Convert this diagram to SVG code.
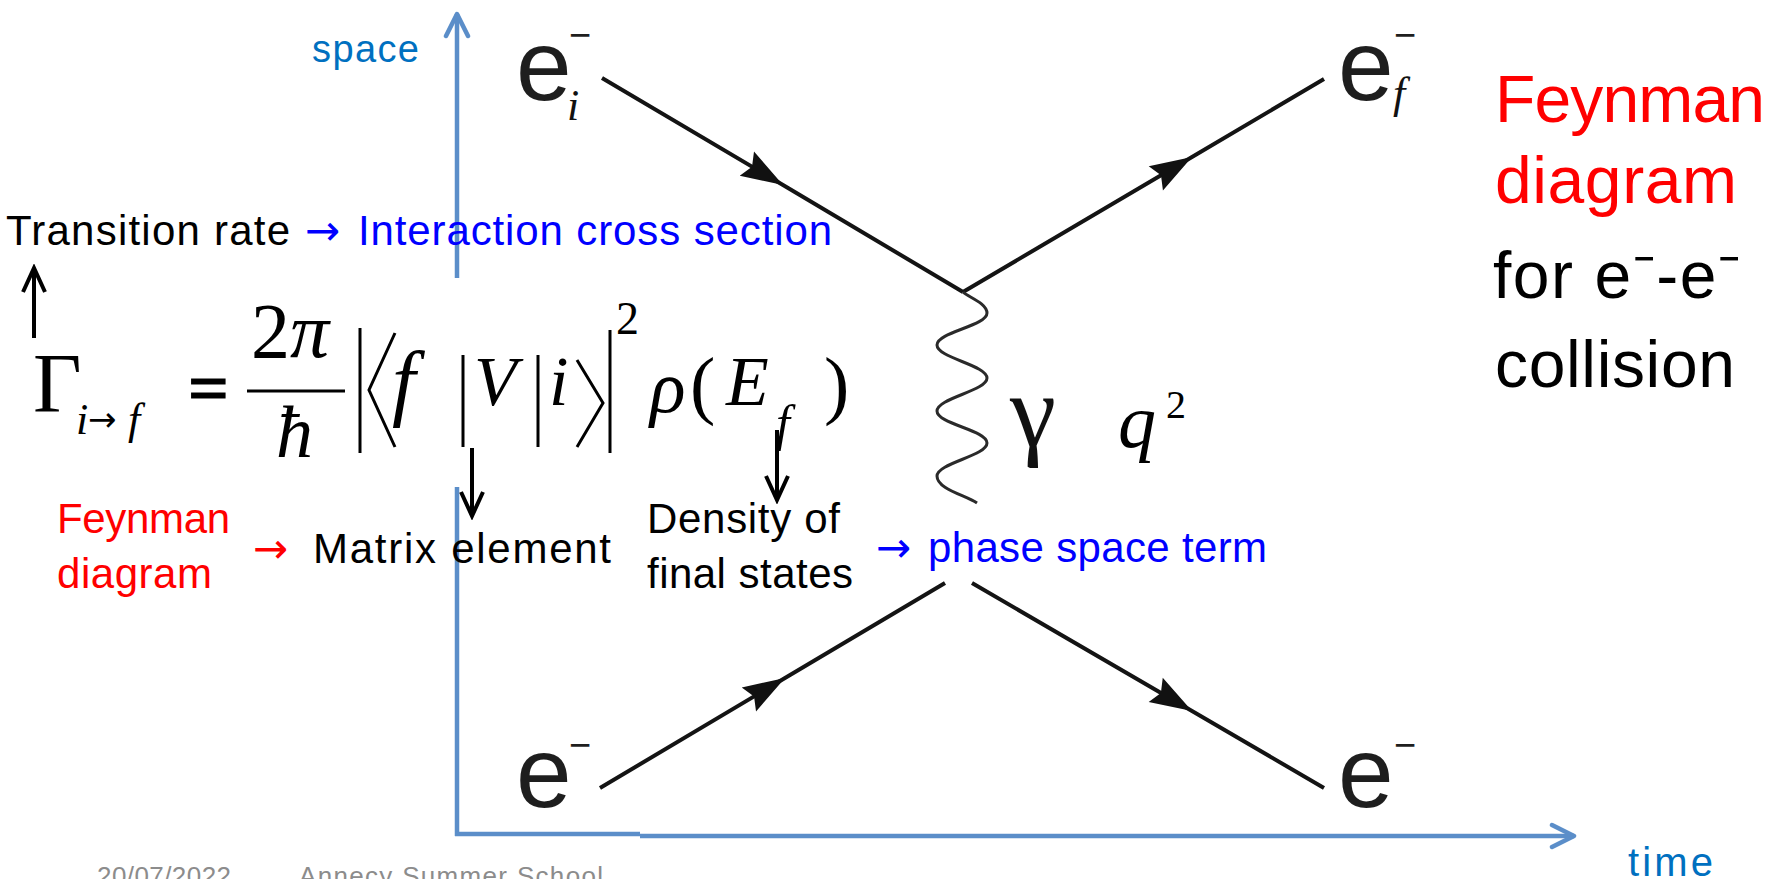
<svg xmlns="http://www.w3.org/2000/svg" width="1767" height="879" viewBox="0 0 1767 879">
<style>
.sans{font-family:"Liberation Sans",Arial,sans-serif}
.serif{font-family:"Liberation Serif","Times New Roman",serif}
.arr{font-family:"DejaVu Sans","Liberation Sans",sans-serif}
.lbl{font-size:42px}
.blk{fill:#000}
.red{fill:#ff0000}
.blu{fill:#0000ff}
.axl{fill:#0070c0}
.ax{stroke:#5b8ec9;stroke-width:4.5;fill:none}
.fer{stroke:#141414;stroke-width:4;fill:none;marker-mid:url(#fillArr)}
.pho{stroke:#2a2a2a;stroke-width:3;fill:none}
.ptr{stroke:#000;stroke-width:4;fill:none;marker-end:url(#openBlk)}
.rule{stroke:#000;stroke-width:3;fill:none}
.el{font-size:100px;fill:#1e1e1e}
.mi{font-style:italic}
</style>
<defs>
<marker id="openBlk" viewBox="-28 -14 32 28" refX="0" refY="0" markerWidth="32" markerHeight="28" markerUnits="userSpaceOnUse" orient="auto">
<path d="M-24,-11 L0,0 L-24,11" fill="none" stroke="#000" stroke-width="4"/>
</marker>
<marker id="openBlu" viewBox="-28 -14 32 28" refX="0" refY="0" markerWidth="32" markerHeight="28" markerUnits="userSpaceOnUse" orient="auto">
<path d="M-22,-11 L0,0 L-22,11" fill="none" stroke="#5b8ec9" stroke-width="4.5" stroke-linecap="round" stroke-linejoin="round"/>
</marker>
<marker id="fillArr" viewBox="-46 -17 50 34" refX="0" refY="0" markerWidth="50" markerHeight="34" markerUnits="userSpaceOnUse" orient="auto">
<path d="M0,0 L-42,-14 L-36,0 L-42,14 Z" fill="#111"/>
</marker>
</defs>
<rect width="1767" height="879" fill="#fff"/>

<g id="connectors">
  <path class="ax" d="M457,278 L457,14" marker-end="url(#openBlu)"/>
  <path class="ax" d="M457,487 L457,836"/>
  <path class="ax" d="M455,834 L640,834"/>
  <path class="ax" d="M640,836 L1574,836" marker-end="url(#openBlu)"/>
  <path class="fer" d="M602,78 L783,185 L963,292"/>
  <path class="fer" d="M963,292 L1192,157 L1324,79"/>
  <path class="fer" d="M600,788 L785,678 L945,583"/>
  <path class="fer" d="M972,583 L1192,711 L1324,788"/>
  <path class="pho" d="M963,292 C968,297 987,303 987,313 C987,326 937,332 937,345 C937,358 987,365 987,378 C987,391 937,398 937,411 C937,424 987,430 987,443 C987,456 937,463 937,476 C937,489 965,495 977,503"/>
  <path class="ptr" d="M34,338 L34,268"/>
  <path class="ptr" d="M472,448 L472,516"/>
  <path class="ptr" d="M777,430 L777,500"/>
</g>

<g id="axis-labels" class="sans">
  <text class="axl" x="312" y="62" font-size="38" textLength="107">space</text>
  <text class="axl" x="1628" y="876" font-size="40" textLength="85">time</text>
</g>

<g id="e-in-top" class="sans">
  <text class="el" x="516" y="100">e</text>
  <text x="569" y="48" font-size="38" fill="#1e1e1e">−</text>
  <text class="serif mi" x="567" y="120" font-size="44" fill="#111">i</text>
</g>
<g id="e-out-top" class="sans">
  <text class="el" x="1338" y="100">e</text>
  <text x="1394" y="48" font-size="38" fill="#1e1e1e">−</text>
  <text class="serif mi" x="1393" y="108" font-size="44" fill="#111">f</text>
</g>
<g id="e-in-bottom" class="sans">
  <text class="el" x="516" y="807">e</text>
  <text x="569" y="758" font-size="38" fill="#1e1e1e">−</text>
</g>
<g id="e-out-bottom" class="sans">
  <text class="el" x="1338" y="807">e</text>
  <text x="1394" y="758" font-size="38" fill="#1e1e1e">−</text>
</g>
<g id="photon-label" class="serif">
  <text x="1010" y="446" font-size="104" fill="#111">γ</text>
  <text class="mi" x="1118" y="447" font-size="76">q</text>
  <text x="1166" y="418" font-size="40">2</text>
</g>

<g id="formula" class="serif">
  <text x="33" y="412" font-size="84">Γ</text>
  <text class="mi" x="76" y="434" font-size="44">i</text>
  <text class="arr" x="88" y="431" font-size="34">→</text>
  <text class="mi" x="128" y="434" font-size="44">f</text>
  <text x="188" y="412" font-size="72" font-weight="bold" stroke="#000" stroke-width="1">=</text>
  <text x="251" y="357" font-size="78">2<tspan class="mi">π</tspan></text>
  <line class="rule" x1="247" y1="391" x2="345" y2="391" stroke-width="4"/>
  <text class="mi" x="276" y="457" font-size="74">ħ</text>
  <line class="rule" x1="360" y1="328" x2="360" y2="453"/>
  <polyline class="rule" points="395,333 369,390 395,447"/>
  <text class="mi" x="392" y="410" font-size="84">f</text>
  <line class="rule" x1="463" y1="355" x2="463" y2="447"/>
  <text class="mi" x="474" y="405" font-size="70">V</text>
  <line class="rule" x1="538" y1="355" x2="538" y2="447"/>
  <text class="mi" x="549" y="405" font-size="70">i</text>
  <polyline class="rule" points="577,360 603,403 577,447"/>
  <line class="rule" x1="610" y1="330" x2="610" y2="453"/>
  <text x="616" y="334" font-size="46">2</text>
  <text class="mi" x="650" y="412" font-size="74">ρ</text>
  <text x="690" y="410" font-size="76">(</text>
  <text class="mi" x="726" y="405" font-size="70">E</text>
  <text class="mi" x="776" y="440" font-size="50">f</text>
  <text x="824" y="410" font-size="76">)</text>
</g>

<g id="label-transition" class="sans lbl">
  <text class="blk" x="6" y="245" textLength="284">Transition rate</text>
  <text class="blu arr" x="305" y="245">→</text>
  <text class="blu" x="358" y="245" textLength="474">Interaction cross section</text>
</g>

<g id="label-feynman-left" class="sans lbl">
  <text class="red" x="57" y="533" textLength="173">Feynman</text>
  <text class="red" x="57" y="588" textLength="155">diagram</text>
  <text class="red arr" x="253" y="563">→</text>
</g>
<g id="label-matrix" class="sans lbl">
  <text class="blk" x="313" y="563" textLength="298">Matrix element</text>
</g>
<g id="label-density" class="sans lbl">
  <text class="blk" x="647" y="533" textLength="193">Density of</text>
  <text class="blk" x="647" y="588" textLength="206">final states</text>
</g>
<g id="label-phase" class="sans lbl">
  <text class="blu arr" x="876" y="562">→</text>
  <text class="blu" x="928" y="562" textLength="339">phase space term</text>
</g>

<g id="label-title" class="sans" font-size="66">
  <text class="red" x="1495" y="122" textLength="270">Feynman</text>
  <text class="red" x="1495" y="203" textLength="242">diagram</text>
  <text class="blk" x="1493" y="298" textLength="247">for e⁻-e⁻</text>
  <text class="blk" x="1495" y="387" textLength="240">collision</text>
</g>

<g id="footer" class="sans" font-size="26" fill="#8c8c8c">
  <text x="97" y="885" textLength="134">20/07/2022</text>
  <text x="299" y="885" textLength="304">Annecy Summer School</text>
</g>
</svg>
